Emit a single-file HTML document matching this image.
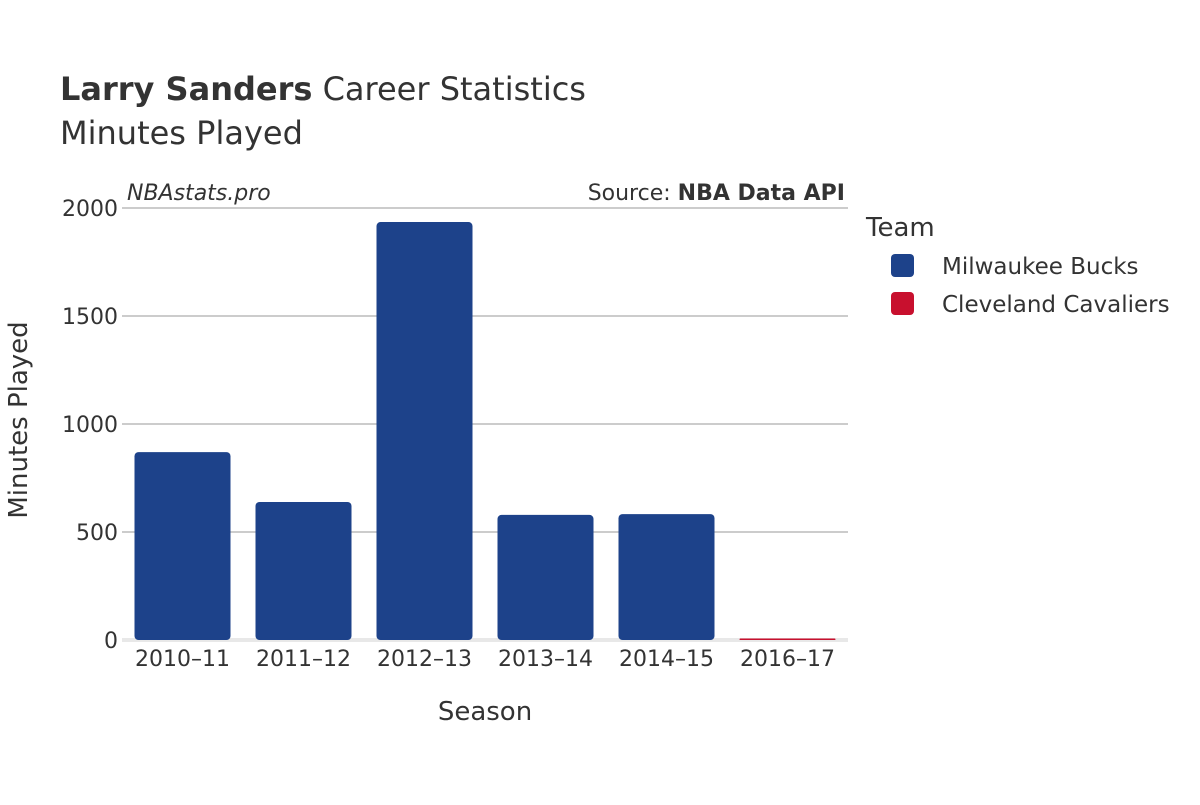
<!DOCTYPE html>
<html><head><meta charset="utf-8"><style>
body{margin:0;background:#fff;font-family:"Liberation Sans","DejaVu Sans",sans-serif;}
svg text{font-family:"DejaVu Sans","Liberation Sans",sans-serif;fill:#333;}
</style></head><body>
<svg width="1200" height="800">
<text x="60" y="100" font-size="32"><tspan font-weight="bold">Larry Sanders</tspan> Career Statistics</text>
<text x="60" y="144" font-size="32">Minutes Played</text>
<text x="127" y="200" font-size="22" font-style="italic">NBAstats.pro</text>
<text x="845" y="200" font-size="22" text-anchor="end">Source: <tspan font-weight="bold">NBA Data API</tspan></text>
<g id="grid"></g>
<g id="bars"></g>
<g id="xt"></g>
<text x="485" y="720" font-size="26" text-anchor="middle">Season</text>
<text transform="translate(27,420) rotate(-90)" font-size="26" text-anchor="middle">Minutes Played</text>
<text x="866" y="236" font-size="26">Team</text>
<g><rect x="891" y="254" width="23" height="23" rx="4" fill="#1D428A"/><text x="942" y="274" font-size="23">Milwaukee Bucks</text></g>
<g><rect x="891" y="292" width="23" height="23" rx="4" fill="#C8102E"/><text x="942" y="312" font-size="23">Cleveland Cavaliers</text></g>
</svg>
<script>
const seasons=["2010–11","2011–12","2012–13","2013–14","2014–15","2016–17"];
const minutes=[870,639,1935,579,583,5];
const teams=["MIL","MIL","MIL","MIL","MIL","CLE"];
const yTicks=[0,500,1000,1500,2000];
const colors={MIL:"#1D428A",CLE:"#C8102E"};
const NS="http://www.w3.org/2000/svg";
const x0=122,x1=848,y0=640,y1=208,yMax=2000;
const band=(x1-x0)/seasons.length;
const y=v=>y0-(v/yMax)*(y0-y1);
const g=document.getElementById("grid"),b=document.getElementById("bars"),xt=document.getElementById("xt");
function mk(t,a,p){const e=document.createElementNS(NS,t);for(const k in a)e.setAttribute(k,a[k]);p.appendChild(e);return e;}
yTicks.forEach(v=>{
 if(v>0){const l=mk("line",{x1:x0,x2:x1,y1:y(v),y2:y(v),stroke:"#999","stroke-width":1},g);
 
 }
 const t=mk("text",{x:x0-4,y:y(v)+8,"font-size":22,"text-anchor":"end"},g);t.textContent=v;
 
 
});
const z=mk("rect",{x:x0,y:y0-2,width:x1-x0,height:4,fill:"#e8e8e8"},g);


seasons.forEach((s,i)=>{
 const cx=x0+band*(i+0.5),w=96,top=y(minutes[i]),h=Math.max(y0-top,1.5);
 const r=mk("rect",{x:cx-w/2,y:y0-h,width:w,height:h,rx:Math.min(4,h/2),fill:colors[teams[i]]},b);
 
 
 const t=mk("text",{x:cx,y:666,"font-size":22,"text-anchor":"middle"},xt);t.textContent=s;
 
 
});
</script>
</body></html>
